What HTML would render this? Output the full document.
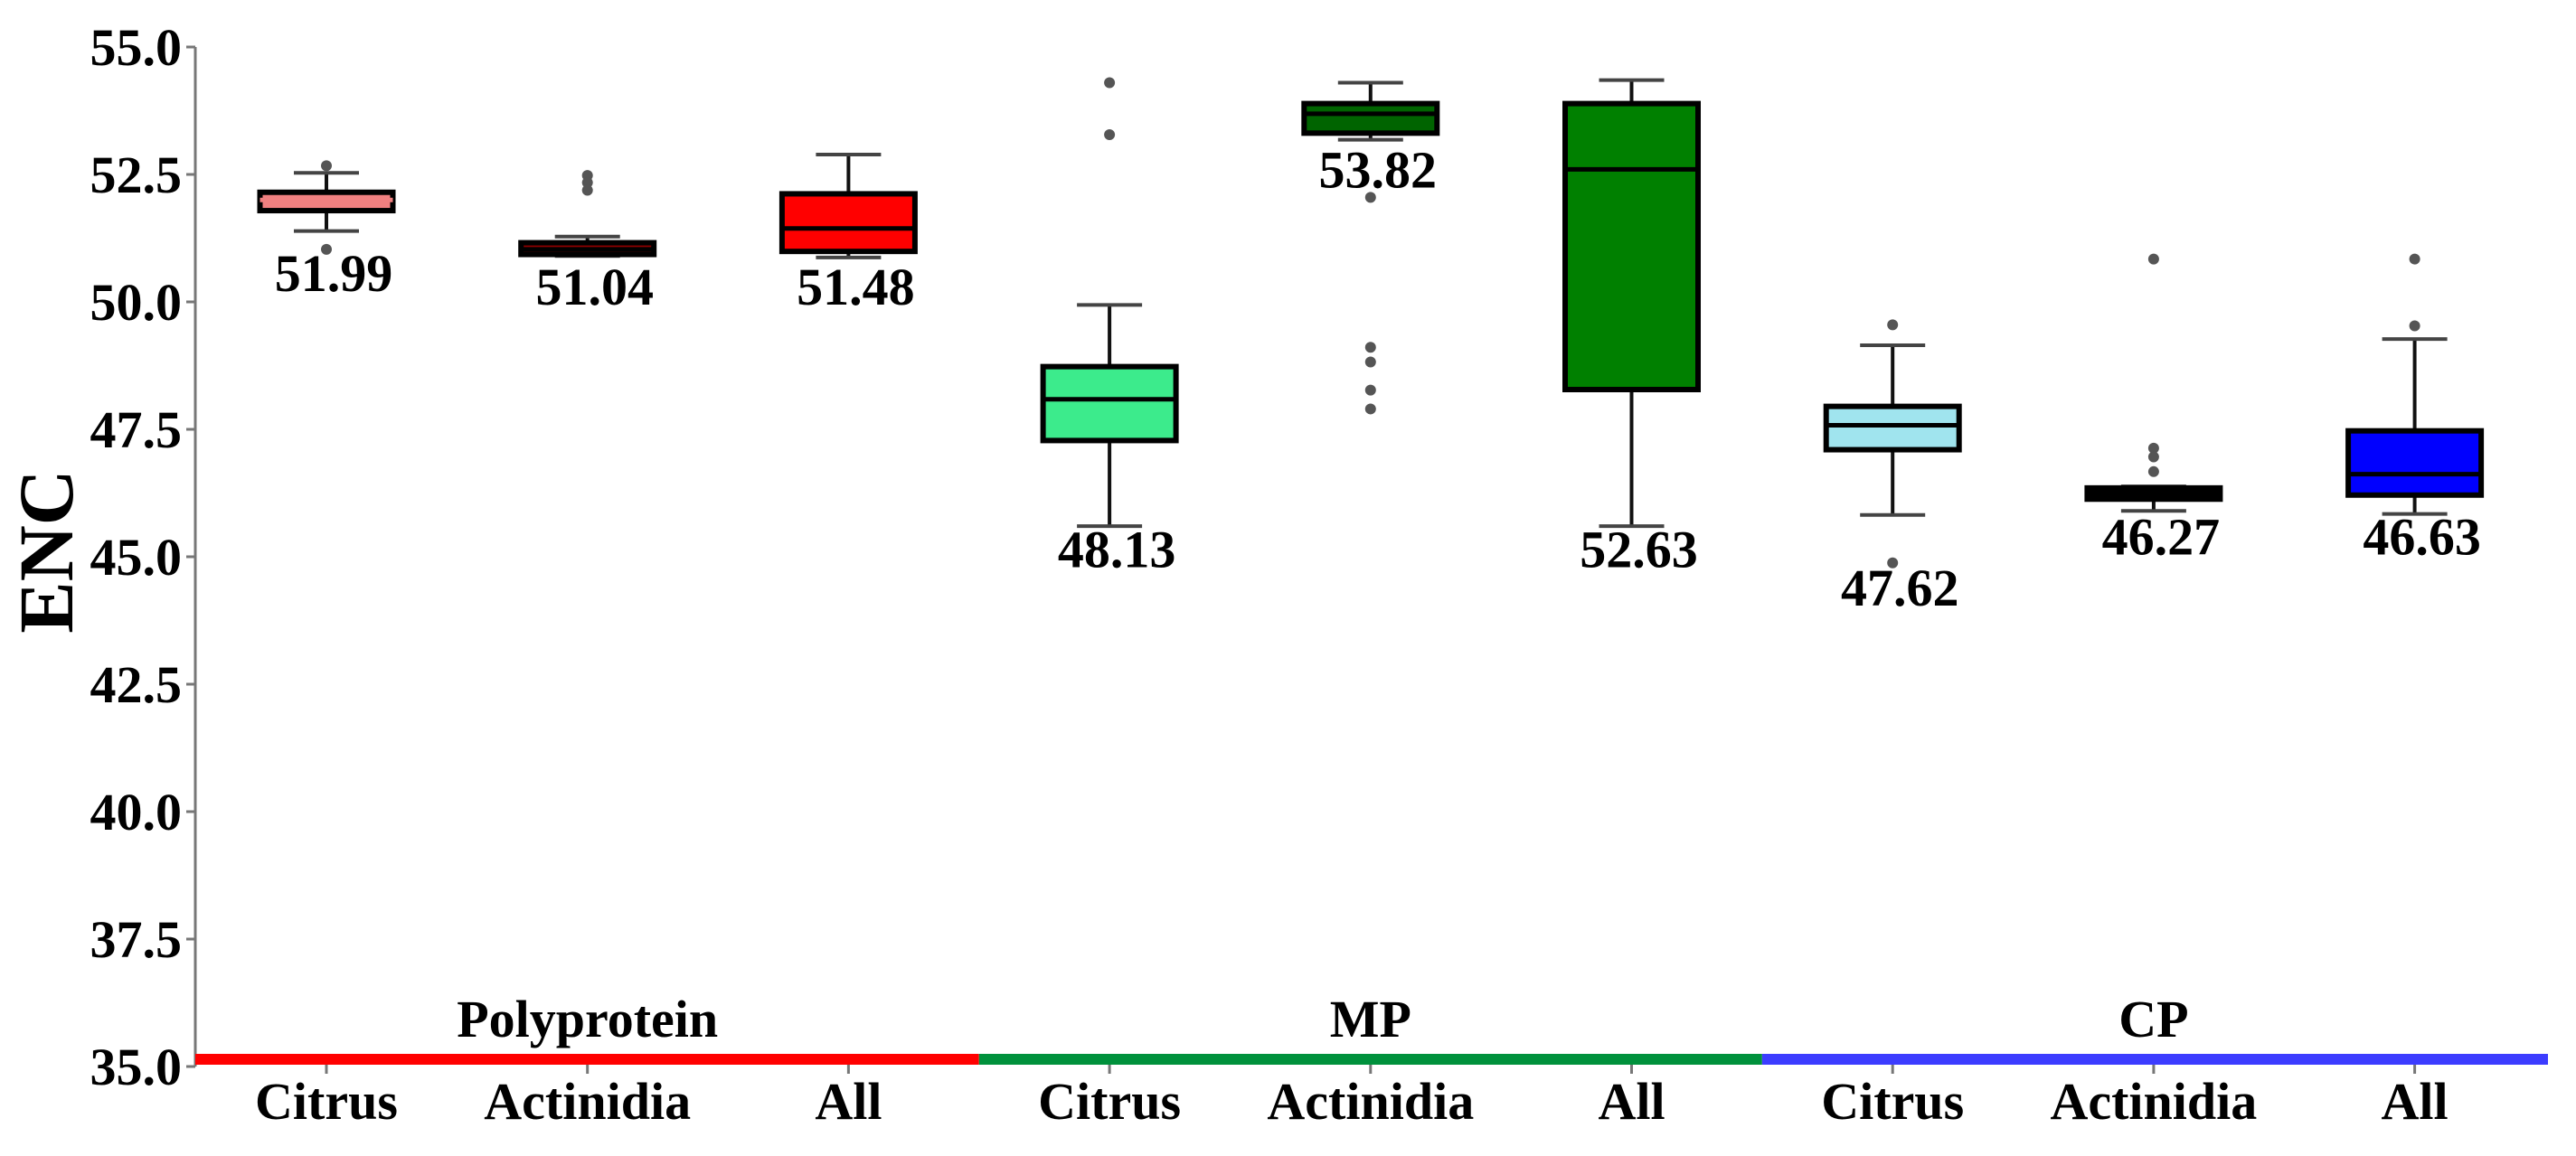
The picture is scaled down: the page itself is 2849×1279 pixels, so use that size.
<!DOCTYPE html>
<html><head><meta charset="utf-8"><style>
html,body{margin:0;padding:0;background:#fff;}
svg{display:block;}
text{font-family:"Liberation Serif",serif;font-weight:bold;fill:#000;}
</style></head><body>
<svg id="chart" width="2849" height="1279" viewBox="0 0 2849 1279" xmlns="http://www.w3.org/2000/svg"></svg>
<script>
const categories = ["Citrus","Actinidia","All","Citrus","Actinidia","All","Citrus","Actinidia","All"];
const groups = ["Polyprotein","MP","CP"];
const whiskerHigh = [52.53,51.28,52.89,49.94,54.30,54.35,49.15,46.38,49.27];
const q3Values    = [52.15,51.16,52.12,48.73,53.89,53.89,47.95,46.35,47.47];
const medians     = [52.00,51.03,51.44,48.09,53.69,52.60,47.58,46.23,46.62];
const q1Values    = [51.79,50.93,50.99,47.28,53.31,48.28,47.10,46.13,46.21];
const whiskerLow  = [51.39,50.90,50.87,45.60,53.18,45.60,45.82,45.90,45.84];
const outliers    = [[52.67,51.03],[52.48,52.34,52.19],[],[54.30,53.28],[52.05,49.11,48.82,48.27,47.90],[],[49.55,44.88],[50.84,47.13,46.96,46.67],[50.84,49.53]];
const valueLabels = ["51.99","51.04","51.48","48.13","53.82","52.63","47.62","46.27","46.63"];
const labelValues = [50.57,50.3,50.3,45.15,52.6,45.15,44.4,45.4,45.4];
const yTicks = [35.0,37.5,40.0,42.5,45.0,47.5,50.0,52.5,55.0];
const boxFills = ["#f08080","#8b0000","#ff0000","#3ceb8c","#006400","#008000","#a0e4ee","#000000","#0000ff"];
const groupColors = ["#ff0000","#00913c","#3c3cff"];

const NS="http://www.w3.org/2000/svg";
const svg=document.getElementById('chart');
const y=v=>52+(55-v)*(1128/20);
const x=i=>361+i*288.7;
function el(tag,attrs,parent){const e=document.createElementNS(NS,tag);for(const k in attrs)e.setAttribute(k,attrs[k]);(parent||svg).appendChild(e);return e;}

const axis=el('line',{x1:216,y1:y(55),x2:216,y2:y(35),stroke:'#777','stroke-width':3});


yTicks.forEach(t=>{
  const tk=el('line',{x1:206,y1:y(t),x2:216,y2:y(t),stroke:'#777','stroke-width':3});
  
  
  const tl=el('text',{x:201,y:y(t)+20,'text-anchor':'end','font-size':58});
  tl.textContent=t.toFixed(1);
  
  
});
const yt=el('text',{x:0,y:0,'text-anchor':'middle','font-size':86,transform:'translate(80,610) rotate(-90)'});
yt.textContent='ENC';



groups.forEach((g,gi)=>{
  const x1=gi===0?216:(x(gi*3-1)+x(gi*3))/2, x2=gi===2?2818:(x(gi*3+2)+x(gi*3+3))/2;
  const ln=el('line',{x1:x1,y1:1172,x2:x2,y2:1172,stroke:groupColors[gi],'stroke-width':12});
  
  
  const gt=el('text',{x:x(gi*3+1),y:1147,'text-anchor':'middle','font-size':58});
  gt.textContent=g;
  
  
});

const bw=147, cw=72;
categories.forEach((c,i)=>{
  const cx=x(i);
  const g=el('g',{});
  
  
  el('line',{x1:cx,y1:y(whiskerHigh[i]),x2:cx,y2:y(whiskerLow[i]),stroke:'#111','stroke-width':4},g);
  el('line',{x1:cx-cw/2,y1:y(whiskerHigh[i]),x2:cx+cw/2,y2:y(whiskerHigh[i]),stroke:'#444','stroke-width':4},g);
  el('line',{x1:cx-cw/2,y1:y(whiskerLow[i]),x2:cx+cw/2,y2:y(whiskerLow[i]),stroke:'#444','stroke-width':4},g);
  el('rect',{x:cx-bw/2,y:y(q3Values[i]),width:bw,height:Math.max(y(q1Values[i])-y(q3Values[i]),1),fill:boxFills[i],stroke:'#000','stroke-width':6},g);
  el('line',{x1:cx-bw/2,y1:y(medians[i]),x2:cx+bw/2,y2:y(medians[i]),stroke:i===0?'#f08080':'#000','stroke-width':5},g);
  outliers[i].forEach(o=>{
    const d=el('circle',{cx:cx,cy:y(o),r:6,fill:'#555'});
    
    
  });
  const vl=el('text',{x:cx+8,y:y(labelValues[i])+20,'text-anchor':'middle','font-size':58});
  vl.textContent=valueLabels[i];
  
  
  const ct=el('line',{x1:cx,y1:1178,x2:cx,y2:1188,stroke:'#777','stroke-width':3});
  
  
  const cl=el('text',{x:cx,y:1238,'text-anchor':'middle','font-size':58});
  cl.textContent=c;
  
  
});
</script>
</body></html>
